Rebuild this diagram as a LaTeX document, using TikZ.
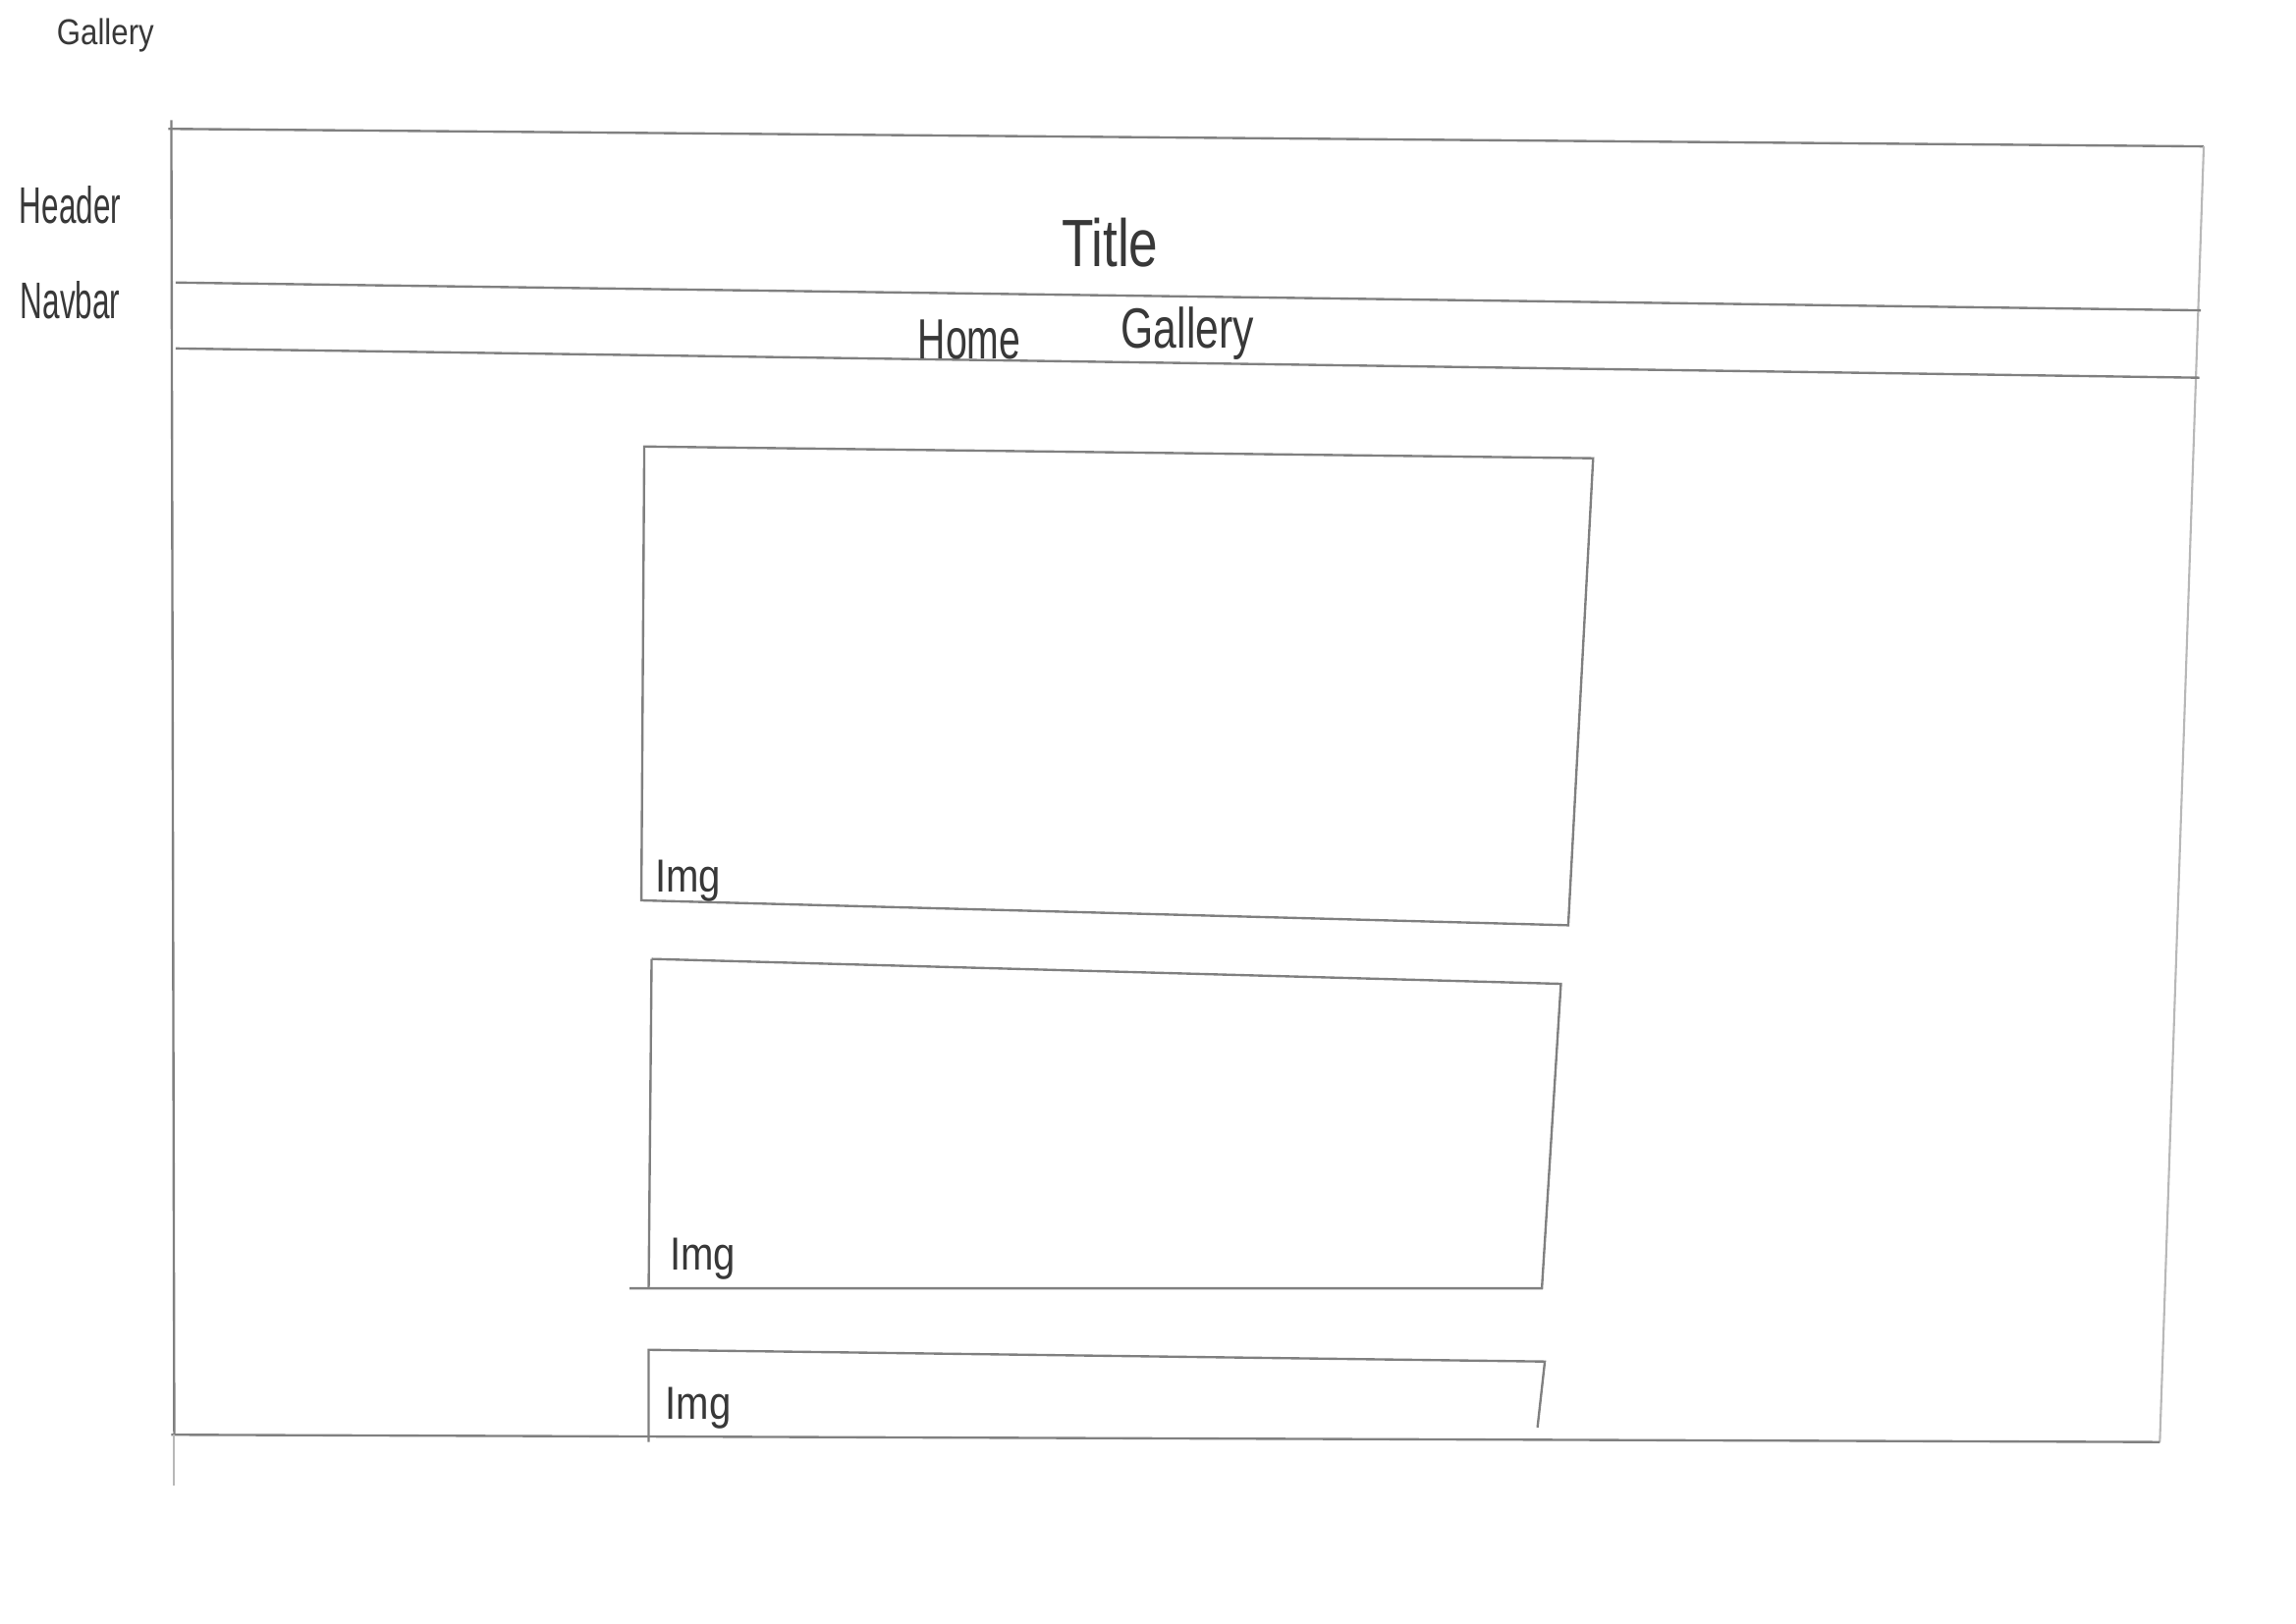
\documentclass[tikz,border=0pt]{standalone}
\usepackage{fontspec}
\setmainfont{Liberation Sans}
\begin{document}
\begin{tikzpicture}[x=0.01cm,y=-0.01cm,
  pencil/.style={draw=black!50,line width=0.45pt},
  faint/.style={draw=black!28,line width=0.4pt},
  lbl/.style={inner sep=0pt,text=black!78},
]
\useasboundingbox[fill=white] (0,0) rectangle (1568,1109);
% outer frame corners
\coordinate (tl) at (115,88);
\coordinate (tr) at (1505,100);
\coordinate (br) at (1475,985);
\coordinate (bl) at (117,980);
\draw[pencil] (tl) -- (tr);
\draw[faint] (tr) -- (br);
\draw[pencil] (bl) -- (br);
\draw[pencil] (117,82) -- (119,980);
\draw[faint] (119,980) -- (119,1015);
% header / navbar separators
\coordinate (h1) at (120,193); \coordinate (h2) at (1503,212);
\coordinate (n1) at (120,238); \coordinate (n2) at (1502,258);
\draw[pencil] (h1) -- (h2);
\draw[pencil] (n1) -- (n2);
% labels
\node[lbl,font=\fontsize{7}{8}\selectfont] (gal) at (72,24) {\scalebox{0.85}[1]{Gallery}};
\node[lbl,font=\fontsize{10}{12}\selectfont] (hdr) at (48,140) {\scalebox{0.6}[1]{Header}};
\node[lbl,font=\fontsize{10}{12}\selectfont] (nav) at (48,205) {\scalebox{0.6}[1]{Navbar}};
\node[lbl,font=\fontsize{13}{15}\selectfont] (title) at (758,166) {\scalebox{0.78}[1]{Title}};
\node[lbl,font=\fontsize{11}{13}\selectfont] (home) at (662,232) {\scalebox{0.68}[1]{Home}};
\node[lbl,font=\fontsize{11}{13}\selectfont] (gall) at (811,228) {\scalebox{0.74}[1]{Gallery}};
% image box 1
\coordinate (a1) at (440,305); \coordinate (a2) at (1088,313);
\coordinate (a3) at (1071,632); \coordinate (a4) at (438,615);
\draw[pencil] (a1) -- (a2) -- (a3) -- (a4) -- cycle;
\node[lbl,font=\fontsize{9}{11}\selectfont] (img1) at (470,602) {\scalebox{0.85}[1]{Img}};
% image box 2
\coordinate (b1) at (445,655); \coordinate (b2) at (1066,672);
\coordinate (b3) at (1053,880); \coordinate (b4) at (430,880);
\draw[pencil] (b1) -- (b2) -- (b3) -- (b4);
\draw[pencil] (b1) -- (443,880);
\node[lbl,font=\fontsize{9}{11}\selectfont] (img2) at (480,860) {\scalebox{0.85}[1]{Img}};
% image box 3
\coordinate (c1) at (443,922); \coordinate (c2) at (1055,930);
\coordinate (c3) at (1050,975); \coordinate (c4) at (443,985);
\draw[pencil] (c4) -- (c1) -- (c2) -- (c3);
\node[lbl,font=\fontsize{9}{11}\selectfont] (img3) at (477,962) {\scalebox{0.85}[1]{Img}};
\end{tikzpicture}
\end{document}
